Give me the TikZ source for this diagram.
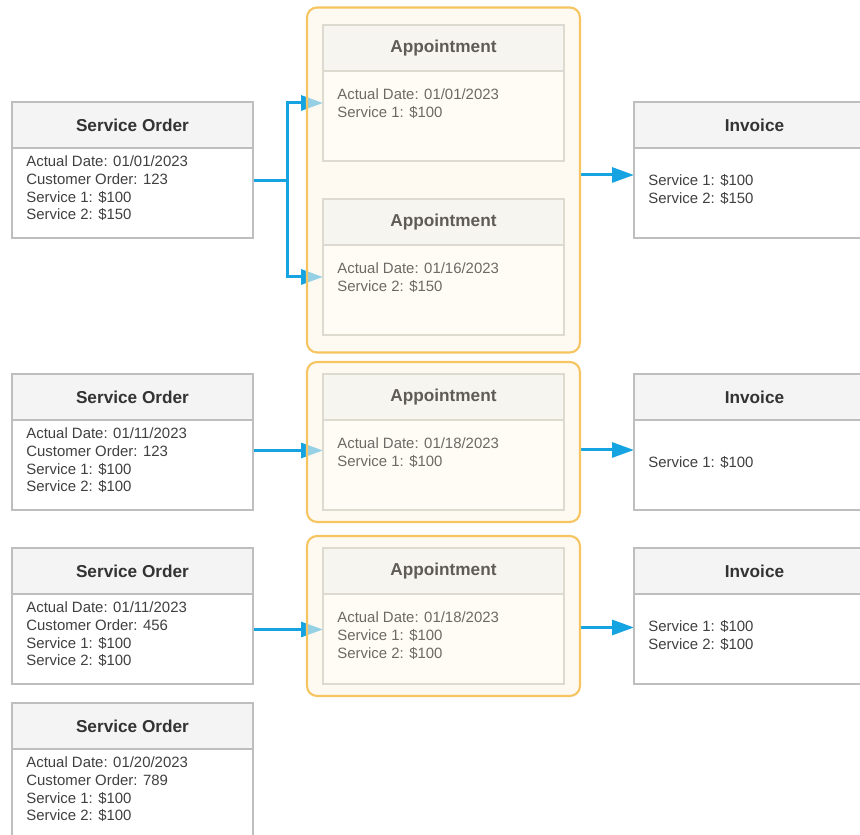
\documentclass[tikz,border=0pt]{standalone}
\usepackage{fontspec}
\setmainfont{Liberation Sans}
\usetikzlibrary{positioning,arrows.meta,fit,calc}
\definecolor{flowblue}{RGB}{22,163,226}
\definecolor{boxgray}{RGB}{190,190,190}
\definecolor{headgray}{RGB}{244,244,244}
\definecolor{titlegray}{RGB}{51,51,51}
\definecolor{textgray}{RGB}{64,64,64}
\definecolor{appgray}{RGB}{221,218,208}
\definecolor{appheadfill}{RGB}{247,245,239}
\definecolor{appbodyfill}{RGB}{255,252,245}
\definecolor{apptitle}{RGB}{95,92,88}
\definecolor{apptext}{RGB}{108,106,102}
\definecolor{groupgold}{RGB}{246,196,96}
\definecolor{groupcream}{RGB}{255,246,230}
\pgfdeclarelayer{flows}
\pgfdeclarelayer{groups}
\pgfsetlayers{flows,groups,main}
\begin{document}
\begin{tikzpicture}[
    x=0.02cm, y=-0.02cm,
    node distance=0pt,
    head/.style={draw=boxgray, line width=1pt, fill=headgray, minimum width=4.82cm, minimum height=0.92cm, inner sep=0pt, outer sep=0pt, anchor=north west, font=\bfseries\fontsize{9.8}{12}\selectfont, text=titlegray},
    body/.style={draw=boxgray, line width=1pt, fill=white, minimum width=4.82cm, minimum height=1.8cm, inner sep=0pt, outer sep=0pt},
    apphead/.style={head, draw=appgray, fill=appheadfill, text=apptitle},
    appbody/.style={body, draw=appgray, fill=appbodyfill},
    lines/.style={anchor=north west, align=left, inner sep=0pt, font=\fontsize{8.5}{10.2}\selectfont, text=textgray},
    applines/.style={lines, text=apptext},
    group/.style={draw=groupgold, line width=1.2pt, fill=groupcream, fill opacity=0.55, rounded corners=0.2cm, inner xsep=0.32cm, inner ysep=0.24cm},
    flow/.style={-{Triangle[length=0.44cm, width=0.3cm]}, line width=1.7pt, color=flowblue}
]
    \useasboundingbox (0,0) rectangle (860,835);

    \node[head] (so1h) at (12,102) {Service Order};
    \node[body, below=of so1h] (so1b) {};
    \node[lines] (so1t) at ($(so1b.north west)+(14,7)$) {Actual Date: 01/01/2023\\Customer Order: 123\\Service 1: \$100\\Service 2: \$150};

    \node[head] (so2h) at (12,374) {Service Order};
    \node[body, below=of so2h] (so2b) {};
    \node[lines] (so2t) at ($(so2b.north west)+(14,7)$) {Actual Date: 01/11/2023\\Customer Order: 123\\Service 1: \$100\\Service 2: \$100};

    \node[head] (so3h) at (12,548) {Service Order};
    \node[body, below=of so3h] (so3b) {};
    \node[lines] (so3t) at ($(so3b.north west)+(14,7)$) {Actual Date: 01/11/2023\\Customer Order: 456\\Service 1: \$100\\Service 2: \$100};

    \node[head] (so4h) at (12,703) {Service Order};
    \node[body, below=of so4h] (so4b) {};
    \node[lines] (so4t) at ($(so4b.north west)+(14,7)$) {Actual Date: 01/20/2023\\Customer Order: 789\\Service 1: \$100\\Service 2: \$100};

    \node[apphead] (ap1h) at (323,25) {Appointment};
    \node[appbody, below=of ap1h] (ap1b) {};
    \node[applines] (ap1t) at ($(ap1b.north west)+(14,17)$) {Actual Date: 01/01/2023\\Service 1: \$100};

    \node[apphead] (ap2h) at (323,199) {Appointment};
    \node[appbody, below=of ap2h] (ap2b) {};
    \node[applines] (ap2t) at ($(ap2b.north west)+(14,17)$) {Actual Date: 01/16/2023\\Service 2: \$150};

    \node[apphead] (ap3h) at (323,374) {Appointment};
    \node[appbody, below=of ap3h] (ap3b) {};
    \node[applines] (ap3t) at ($(ap3b.north west)+(14,17)$) {Actual Date: 01/18/2023\\Service 1: \$100};

    \node[apphead] (ap4h) at (323,548) {Appointment};
    \node[appbody, below=of ap4h] (ap4b) {};
    \node[applines] (ap4t) at ($(ap4b.north west)+(14,17)$) {Actual Date: 01/18/2023\\Service 1: \$100\\Service 2: \$100};

    \node[head] (inv1h) at (634,102) {Invoice};
    \node[body, below=of inv1h] (inv1b) {};
    \node[lines] (inv1t) at ($(inv1b.north west)+(14,26)$) {Service 1: \$100\\Service 2: \$150};

    \node[head] (inv2h) at (634,374) {Invoice};
    \node[body, below=of inv2h] (inv2b) {};
    \node[lines] (inv2t) at ($(inv2b.north west)+(14,36)$) {Service 1: \$100};

    \node[head] (inv3h) at (634,548) {Invoice};
    \node[body, below=of inv3h] (inv3b) {};
    \node[lines] (inv3t) at ($(inv3b.north west)+(14,26)$) {Service 1: \$100\\Service 2: \$100};

    \begin{pgfonlayer}{groups}
        \node[group, fit=(ap1h)(ap2b), inner ysep=0.35cm] (grp1) {};
        \node[group, fit=(ap3h)(ap3b)] (grp2) {};
        \node[group, fit=(ap4h)(ap4b)] (grp3) {};
    \end{pgfonlayer}

    \begin{pgfonlayer}{flows}
        \coordinate (fork) at ($([yshift=0.24cm]so1b.east)+(35,0)$);
        \draw[flow] ([yshift=0.24cm]so1b.east) -- (fork) |- ([yshift=0.26cm]ap1b.west);
        \draw[flow] (fork) |- ([yshift=0.26cm]ap2b.west);
        \draw[flow] ([yshift=0.29cm]so2b.east) -- ([yshift=0.29cm]ap3b.west);
        \draw[flow] ([yshift=0.19cm]so3b.east) -- ([yshift=0.19cm]ap4b.west);

        \coordinate (out1) at ([yshift=0.1cm]grp1.east);
        \coordinate (out2) at ([yshift=-0.16cm]grp2.east);
        \coordinate (out3) at ([yshift=-0.23cm]grp3.east);
        \draw[flow] (out1) -- (inv1b.west |- out1);
        \draw[flow] (out2) -- (inv2b.west |- out2);
        \draw[flow] (out3) -- (inv3b.west |- out3);
    \end{pgfonlayer}
\end{tikzpicture}
\end{document}
